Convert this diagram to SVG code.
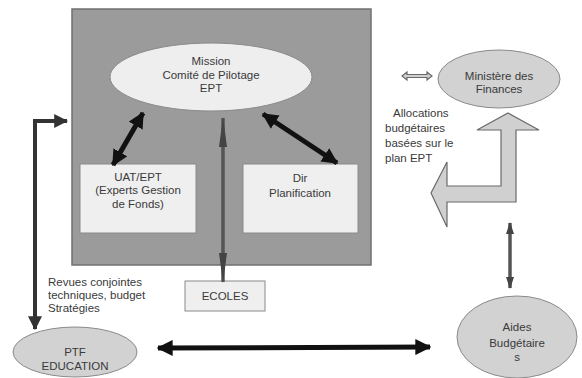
<svg xmlns="http://www.w3.org/2000/svg" width="582" height="378" viewBox="0 0 582 378">
  <defs>
    <style>
      text { font-family: "Liberation Sans", Arial, sans-serif; font-size: 11.5px; fill: #3a3a3a; text-anchor: middle; }
      .left { text-anchor: start; }
      .frame { fill: #9b9b9b; stroke: #707070; stroke-width: 1.5; }
      .box { fill: #efefef; stroke: #8a8a8a; stroke-width: 1; }
      .oval-light { fill: #eeeeee; stroke: #8a8a8a; stroke-width: 1; }
      .oval { fill: #d2d2d2; stroke: #8a8a8a; stroke-width: 1; }
      .thick { stroke: #111; stroke-width: 5; fill: none; }
      .dark { stroke: #333; stroke-width: 4; fill: none; }
      .mid { stroke: #555; stroke-width: 3.5; fill: none; }
      .hollow { fill: #d0d0d0; stroke: #6a6a6a; stroke-width: 1.2; }
    </style>
    <marker id="head-black" viewBox="0 0 12 12" refX="11" refY="6" markerWidth="16" markerHeight="16" markerUnits="userSpaceOnUse" orient="auto-start-reverse">
      <path d="M0,0 L12,6 L0,12 Z" fill="#111"/>
    </marker>
    <marker id="head-dark" viewBox="0 0 12 12" refX="11" refY="6" markerWidth="14" markerHeight="14" markerUnits="userSpaceOnUse" orient="auto-start-reverse">
      <path d="M0,0 L12,6 L0,12 Z" fill="#333"/>
    </marker>
    <marker id="head-slim" viewBox="0 0 12 8" refX="11" refY="4" markerWidth="12" markerHeight="8" markerUnits="userSpaceOnUse" orient="auto-start-reverse">
      <path d="M0,0 L12,4 L0,8 Z" fill="#444"/>
    </marker>
    <marker id="head-long" viewBox="0 0 30 8" refX="29" refY="4" markerWidth="30" markerHeight="8" markerUnits="userSpaceOnUse" orient="auto-start-reverse">
      <path d="M0,0 L30,4 L0,8 Z" fill="#444"/>
    </marker>
  </defs>

  <!-- outer frame holding the steering committee -->
  <g id="frame">
    <rect class="frame" x="72" y="9" width="299" height="256"/>
  </g>

  <g id="mission">
    <ellipse class="oval-light" cx="211" cy="77" rx="101" ry="34"/>
    <text x="211" y="65">Mission</text>
    <text x="211" y="79">Comité de Pilotage</text>
    <text x="211" y="92">EPT</text>
  </g>

  <g id="uat">
    <rect class="box" x="80" y="164" width="116" height="69"/>
    <text x="138" y="181">UAT/EPT</text>
    <text x="138" y="194">(Experts Gestion</text>
    <text x="138" y="208">de Fonds)</text>
  </g>

  <g id="planification">
    <rect class="box" x="243" y="164" width="115" height="69"/>
    <text x="300" y="182">Dir</text>
    <text x="300" y="197">Planification</text>
  </g>

  <g id="ecoles">
    <rect class="box" x="185" y="281" width="80" height="30"/>
    <text x="225" y="300">ECOLES</text>
  </g>

  <g id="ministere">
    <ellipse class="oval" cx="499" cy="79" rx="61" ry="29"/>
    <text x="499" y="80">Ministère des</text>
    <text x="499" y="93">Finances</text>
  </g>

  <g id="ptf">
    <ellipse class="oval" cx="75" cy="352" rx="62" ry="25"/>
    <text x="75" y="356">PTF</text>
    <text x="75" y="370">EDUCATION</text>
  </g>

  <g id="aides">
    <ellipse class="oval" cx="517" cy="337" rx="60" ry="41"/>
    <text x="517" y="331">Aides</text>
    <text x="517" y="347">Budgétaire</text>
    <text x="517" y="361">s</text>
  </g>

  <!-- free labels -->
  <g id="labels">
    <text class="left" x="393" y="117">Allocations</text>
    <text class="left" x="385" y="132">budgétaires</text>
    <text class="left" x="385" y="147">basées sur le</text>
    <text class="left" x="385" y="162">plan EPT</text>
    <text class="left" x="48" y="286">Revues conjointes</text>
    <text class="left" x="48" y="299">techniques, budget</text>
    <text class="left" x="48" y="312">Stratégies</text>
  </g>

  <g id="connectors">
    <!-- committee links -->
    <line class="thick" x1="113" y1="165" x2="143" y2="113" marker-start="url(#head-black)" marker-end="url(#head-black)"/>
    <line class="thick" x1="263" y1="114" x2="337" y2="163" marker-start="url(#head-black)" marker-end="url(#head-black)"/>
    <!-- committee to schools -->
    <line class="mid" x1="223" y1="118" x2="223" y2="282" marker-start="url(#head-long)" marker-end="url(#head-long)"/>
    <!-- PTF to Aides -->
    <line class="thick" x1="158" y1="348" x2="430" y2="347" marker-start="url(#head-black)" marker-end="url(#head-black)"/>
    <!-- Ministry to Aides -->
    <line class="mid" x1="510" y1="223" x2="510" y2="288" marker-start="url(#head-slim)" marker-end="url(#head-slim)"/>
    <!-- PTF to committee frame -->
    <polyline class="dark" points="35,329 35,121 67,121" marker-start="url(#head-dark)" marker-end="url(#head-dark)"/>
    <!-- small hollow double arrow beside the ministry -->
    <path class="hollow" d="M402,76 L407,72 L407,74.5 L427,74.5 L427,72 L432,76 L427,80 L427,77.5 L407,77.5 L407,80 Z"/>
    <!-- budget allocation bent arrow -->
    <path class="hollow" d="M508,113 L539,130 L516,130 L516,202 L447,202 L447,227 L431,193 L447,162 L447,186 L501,186 L501,130 L477,130 Z"/>
  </g>
</svg>
